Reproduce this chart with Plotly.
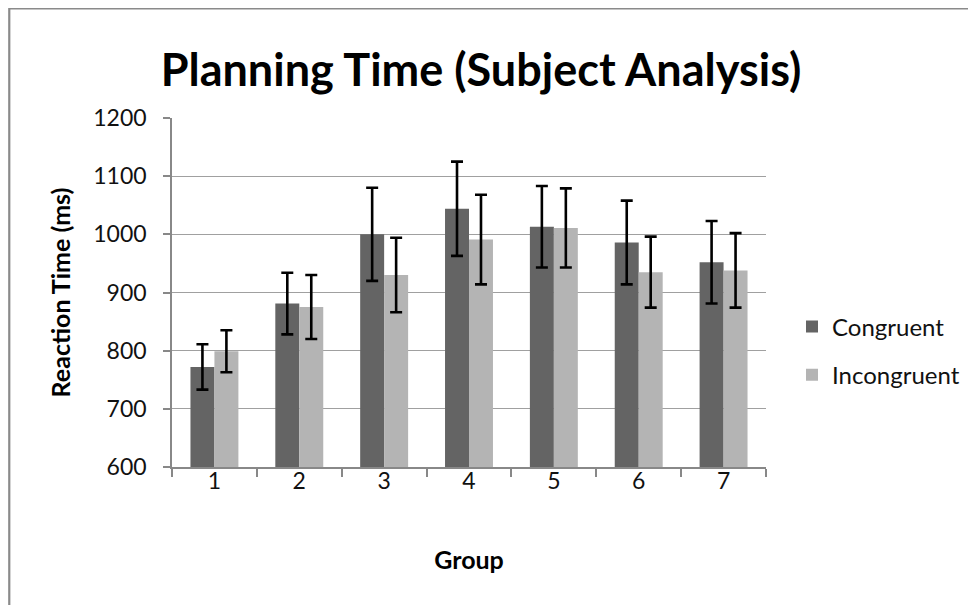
import plotly.graph_objects as go

groups = ["1", "2", "3", "4", "5", "6", "7"]
congruent = [772, 881, 1000, 1044, 1013, 986, 952]
congruent_err = [39, 53, 80, 81, 70, 72, 71]
incongruent = [799, 875, 930, 991, 1011, 935, 938]
incongruent_err = [36, 55, 64, 77, 68, 61, 64]
y_ticks = [600, 700, 800, 900, 1000, 1100, 1200]

# The page body has an 8px margin; the figure is sized/offset to compensate.
OFF = 8
W, H = 976 - OFF, 605 - OFF
L, T = 172 - OFF, 118 - OFF
R, B = 209, 138
pw, ph = W - L - R, H - T - B

FONT = "Lato"

fig = go.Figure()
fig.add_trace(go.Bar(
    x=groups, y=congruent, name="Congruent", legendgroup="c",
    marker=dict(color="#646464", line=dict(width=0)),
    error_y=dict(type="data", array=congruent_err, color="#000000", thickness=2.6, width=6),
))
fig.add_trace(go.Bar(
    x=groups, y=incongruent, name="Incongruent", legendgroup="i",
    marker=dict(color="#b4b4b4", line=dict(width=0)),
    error_y=dict(type="data", array=incongruent_err, color="#000000", thickness=2.6, width=6),
))

def px_x(p):
    # p: pixel in figure coordinates
    return (p - L) / pw

def px_y(p):
    return (H - B - p) / ph

fig.update_layout(
    width=W, height=H,
    margin=dict(l=L, r=R, t=T, b=B, pad=0),
    paper_bgcolor="white", plot_bgcolor="white",
    barmode="group", bargap=0.435, bargroupgap=0,
    font=dict(family=FONT, color="#111111"),
    title=dict(text="<b>Planning Time (Subject Analysis)</b>", font=dict(family=FONT, size=45, color="#000000"),
               x=(481 - OFF) / W, xref="container", xanchor="center",
               y=1 - (70 - OFF) / H, yref="container", yanchor="middle"),
    showlegend=True,
    legend=dict(x=px_x(792 - OFF), xanchor="left", y=px_y(351 - OFF), yanchor="middle",
                font=dict(family=FONT, size=24, color="#111111"),
                traceorder="grouped", tracegroupgap=14, bgcolor="rgba(0,0,0,0)"),
    xaxis=dict(
        type="category", showgrid=False,
        showline=True, linecolor="#888888", linewidth=1.5,
        ticks="outside", tickson="boundaries", ticklen=8, tickcolor="#888888", tickwidth=1.5,
        ticklabelstandoff=-7,
        tickfont=dict(family=FONT, size=23, color="#111111"),
        title=dict(text="<b>Group</b>", font=dict(family=FONT, size=25, color="#000000"), standoff=58),
    ),
    yaxis=dict(
        range=[600, 1200], tickvals=y_ticks, ticktext=[str(v) for v in y_ticks],
        showgrid=True, gridcolor="#a0a0a0", gridwidth=1.3,
        showline=True, linecolor="#888888", linewidth=1.5, zeroline=False,
        ticks="outside", ticklen=7, tickcolor="#888888", tickwidth=1.5,
        ticklabelstandoff=12,
        tickfont=dict(family=FONT, size=23, color="#111111"),
        title=dict(text="<b>Reaction Time (ms)</b>", font=dict(family=FONT, size=25, color="#000000"), standoff=16),
    ),
    shapes=[dict(type="rect", xref="paper", yref="paper",
                 x0=px_x(1), x1=px_x(W + 20), y0=px_y(H + 20), y1=px_y(0.5),
                 line=dict(color="#8a8a8a", width=2.2), fillcolor="rgba(0,0,0,0)", layer="below")],
)

fig.write_html("out.html")
